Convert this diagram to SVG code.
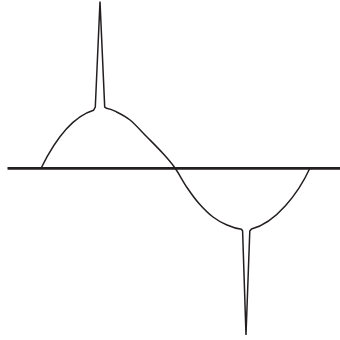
<svg xmlns="http://www.w3.org/2000/svg" width="340" height="340" viewBox="0 0 340 340">
<style>
.axis{stroke:#231f20;stroke-width:2.8;fill:none}
.wave{stroke:#231f20;stroke-width:1.5;fill:none;stroke-linejoin:miter;stroke-miterlimit:20}
</style>
<rect width="340" height="340" fill="#ffffff"/>
<g id="axis">
<line class="axis" x1="7.5" y1="168.3" x2="340" y2="168.3"/>
</g>
<g id="waveform">
<path class="wave" d="M41.2,168 C52.2,145.6 69.5,117.7 93.5,110.3 L95.3,107 L100,1.5 L104.7,107 L106.5,108.3 C109.3,108.8 111.08,109.25 115,111.2 C118.92,113.15 124.67,115.7 130,120 C135.33,124.3 141.5,131.42 147,137 C152.5,142.58 158.33,148.33 163,153.5 C167.67,158.67 171,162.33 175,168 C179,173.67 183,181.58 187,187.5 C191,193.42 194.67,198.58 199,203.5 C203.33,208.42 208.33,213.42 213,217 C217.67,220.58 222.25,222.95 227,225 C231.75,227.05 237,228.75 241.5,229.3 L242.6,231 L246,335 L249.8,231 L251.5,229 C275.8,223 298.2,193.5 310,168"/>
</g>
</svg>
